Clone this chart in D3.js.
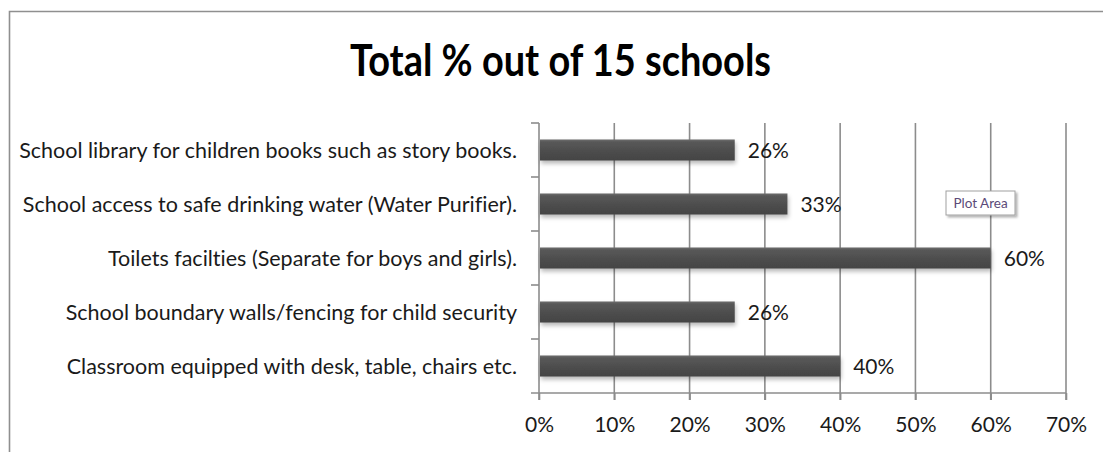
<!DOCTYPE html>
<html>
<head>
<meta charset="utf-8">
<script src="https://cdn.jsdelivr.net/npm/d3@7"></script>
<style>
  html, body { margin: 0; padding: 0; background: #fff; }
  svg { display: block; }
  text { font-family: "Lato", "Noto Sans", sans-serif; font-variant-ligatures: none; font-feature-settings: "liga" 0; }
</style>
</head>
<body>
<svg id="chart" width="1103" height="452"></svg>
<script>
const title = "Total % out of 15 schools";
const categories = [
  "School library for children books such as story books.",
  "School access to safe drinking water (Water Purifier).",
  "Toilets facilties (Separate for boys and girls).",
  "School boundary walls/fencing for child security",
  "Classroom equipped with desk, table, chairs etc."
];
const values = [26, 33, 60, 26, 40];
const xTicks = [0, 10, 20, 30, 40, 50, 60, 70];
const tooltipText = "Plot Area";

const svg = d3.select("#chart");
const W = 1103, H = 452;
const margin = { left: 539, right: 37, top: 123, bottom: 59 };

const defs = svg.append("defs");
const grad = defs.append("linearGradient").attr("id", "barGrad")
  .attr("x1", 0).attr("y1", 0).attr("x2", 0).attr("y2", 1);
grad.append("stop").attr("offset", "0%").attr("stop-color", "#6e6e6e");
grad.append("stop").attr("offset", "12%").attr("stop-color", "#585858");
grad.append("stop").attr("offset", "60%").attr("stop-color", "#4c4c4c");
grad.append("stop").attr("offset", "100%").attr("stop-color", "#444444");
const sh = defs.append("filter").attr("id", "shadow")
  .attr("x", "-5%").attr("y", "-30%").attr("width", "110%").attr("height", "180%");
sh.append("feDropShadow").attr("dx", 1).attr("dy", 3).attr("stdDeviation", 2.2)
  .attr("flood-color", "#000").attr("flood-opacity", 0.28);
const sh2 = defs.append("filter").attr("id", "tipShadow")
  .attr("x", "-20%").attr("y", "-30%").attr("width", "150%").attr("height", "180%");
sh2.append("feDropShadow").attr("dx", 2).attr("dy", 2).attr("stdDeviation", 1.2)
  .attr("flood-color", "#000").attr("flood-opacity", 0.3);

// chart border
svg.append("path")
  .attr("d", `M9.5,${H} L9.5,11.5 L${W},11.5`)
  .attr("fill", "none").attr("stroke", "#8f8f8f").attr("stroke-width", 1.6);

// title
svg.append("text")
  .attr("x", 350).attr("y", 76)
  .attr("font-size", 43).attr("font-weight", "bold").attr("fill", "#000")
  .attr("textLength", 421).attr("lengthAdjust", "spacingAndGlyphs")
  .text(title);

const x = d3.scaleLinear().domain([0, 70]).range([margin.left, W - margin.right]);
const y = d3.scaleBand().domain(categories).range([margin.top, H - margin.bottom])
  .paddingInner(0.61).paddingOuter(0.305);

const axisColor = "#8c8c8c";

// vertical gridlines
svg.append("g").selectAll("line").data(xTicks.filter(d => d > 0)).join("line")
  .attr("x1", d => x(d)).attr("x2", d => x(d))
  .attr("y1", margin.top).attr("y2", H - margin.bottom + 7)
  .attr("stroke", axisColor).attr("stroke-width", 1.6);

// x axis
const xAxis = svg.append("g")
  .attr("transform", `translate(0,${H - margin.bottom})`)
  .call(d3.axisBottom(x).tickValues(xTicks).tickFormat(d => d + "%").tickSize(7).tickPadding(17));
xAxis.select(".domain").remove();
xAxis.append("line").attr("x1", margin.left - 8).attr("x2", x(70))
  .attr("stroke", axisColor).attr("stroke-width", 1.6);
xAxis.selectAll(".tick line").attr("stroke", axisColor).attr("stroke-width", 1.6);
xAxis.selectAll(".tick text").attr("font-size", 21).attr("fill", "#1a1a1a")
  .attr("font-family", "Lato, sans-serif");

// y axis (category boundaries)
const bounds = d3.range(categories.length + 1).map(i => margin.top + i * (H - margin.bottom - margin.top) / categories.length);
const yg = svg.append("g");
yg.append("line").attr("x1", margin.left).attr("x2", margin.left)
  .attr("y1", margin.top).attr("y2", H - margin.bottom + 7)
  .attr("stroke", axisColor).attr("stroke-width", 1.6);
yg.selectAll("line.tk").data(bounds.slice(0, -1)).join("line").attr("class", "tk")
  .attr("x1", margin.left - 8).attr("x2", margin.left)
  .attr("y1", d => d).attr("y2", d => d)
  .attr("stroke", axisColor).attr("stroke-width", 1.6);

// category labels
yg.selectAll("text").data(categories).join("text")
  .attr("x", 517).attr("y", d => y(d) + y.bandwidth() / 2)
  .attr("dy", "0.36em").attr("text-anchor", "end")
  .attr("font-size", 21.5).attr("fill", "#1a1a1a")
  .text(d => d);

// bars
const data = categories.map((c, i) => ({ c, v: values[i] }));
svg.append("g").selectAll("rect").data(data).join("rect")
  .attr("x", x(0) + 1).attr("y", d => y(d.c))
  .attr("width", d => x(d.v) - x(0) - 1).attr("height", y.bandwidth())
  .attr("fill", "url(#barGrad)").attr("filter", "url(#shadow)");

// value labels
svg.append("g").selectAll("text").data(data).join("text")
  .attr("x", d => x(d.v) + 13).attr("y", d => y(d.c) + y.bandwidth() / 2)
  .attr("dy", "0.36em").attr("font-size", 21).attr("fill", "#1a1a1a")
  .text(d => d.v + "%");

// "Plot Area" tooltip
const tip = svg.append("g").attr("transform", "translate(946,191)");
tip.append("rect").attr("width", 69).attr("height", 24)
  .attr("fill", "#fff").attr("stroke", "#a0a0a0").attr("stroke-width", 1)
  .attr("filter", "url(#tipShadow)");
tip.append("text").attr("x", 34.5).attr("y", 16.5).attr("text-anchor", "middle")
  .attr("font-size", 13.5).attr("fill", "#5b4a78").text(tooltipText);
</script>
</body>
</html>
